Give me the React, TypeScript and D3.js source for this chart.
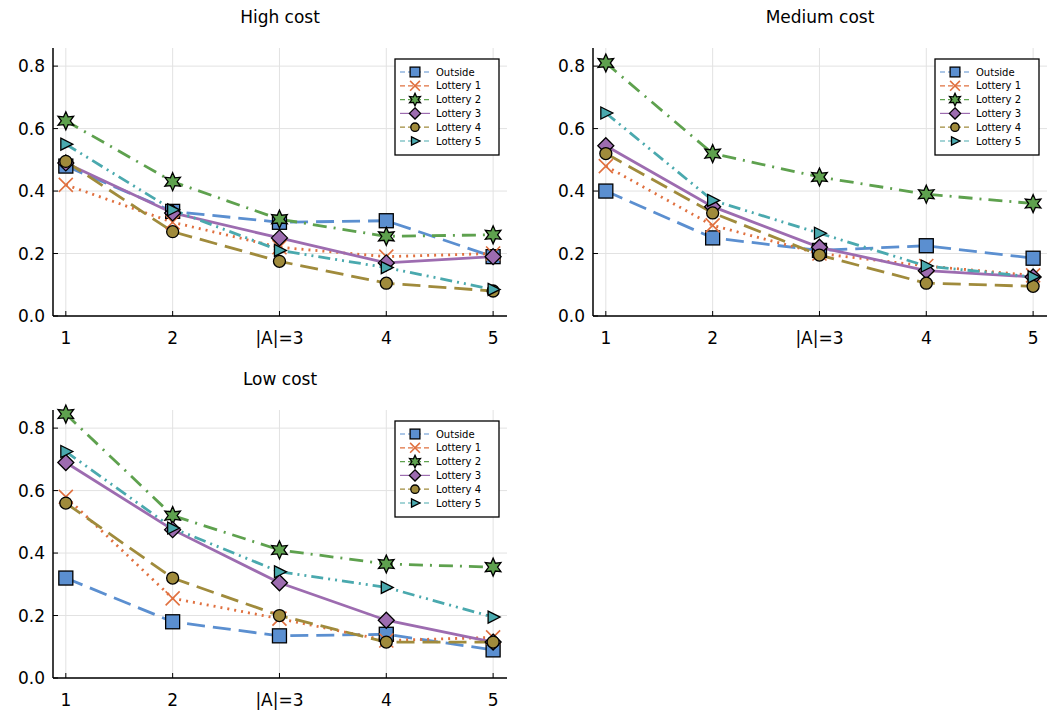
import * as d3 from 'd3';

const xs = [1, 2, 3, 4, 5];
const xLabels = ['1', '2', '|A|=3', '4', '5'];
const yTicks = [0, 0.2, 0.4, 0.6, 0.8];
const seriesNames = ['Outside', 'Lottery 1', 'Lottery 2', 'Lottery 3', 'Lottery 4', 'Lottery 5'];

const highCost = [
  [0.48, 0.335, 0.30, 0.305, 0.19],
  [0.42, 0.30, 0.22, 0.19, 0.20],
  [0.625, 0.43, 0.31, 0.255, 0.26],
  [0.49, 0.33, 0.25, 0.17, 0.19],
  [0.495, 0.27, 0.175, 0.105, 0.08],
  [0.55, 0.34, 0.21, 0.155, 0.085],
];
const mediumCost = [
  [0.40, 0.25, 0.21, 0.225, 0.185],
  [0.48, 0.29, 0.20, 0.16, 0.13],
  [0.81, 0.52, 0.445, 0.39, 0.36],
  [0.545, 0.35, 0.22, 0.145, 0.125],
  [0.52, 0.33, 0.195, 0.105, 0.095],
  [0.65, 0.37, 0.265, 0.16, 0.125],
];
const lowCost = [
  [0.32, 0.18, 0.135, 0.14, 0.09],
  [0.58, 0.255, 0.19, 0.12, 0.13],
  [0.845, 0.52, 0.41, 0.365, 0.355],
  [0.69, 0.475, 0.305, 0.185, 0.115],
  [0.56, 0.32, 0.20, 0.115, 0.115],
  [0.725, 0.48, 0.34, 0.29, 0.195],
];

const colors = ['#5b8fd0', '#e0703f', '#5ea14e', '#9d6cb0', '#a08b3c', '#4aa9ae'];
const dashes = ['18,8', '2,5', '14,7,2,7', '', '18,8', '12,5,2,5,2,5'];
const shapes = ['square', 'x', 'star', 'diamond', 'circle', 'tri'];

function Marker({ kind, x, y, color, s = 1 }: any) {
  const st = { fill: color, stroke: '#000', strokeWidth: 1.3 };
  if (kind === 'square') return <rect x={x - 7 * s} y={y - 7 * s} width={14 * s} height={14 * s} {...st} />;
  if (kind === 'circle') return <circle cx={x} cy={y} r={6 * s} {...st} />;
  if (kind === 'diamond') return <path d={`M${x},${y - 8 * s}L${x + 8 * s},${y}L${x},${y + 8 * s}L${x - 8 * s},${y}Z`} {...st} />;
  if (kind === 'tri') return <path d={`M${x - 5 * s},${y - 6 * s}L${x + 7 * s},${y}L${x - 5 * s},${y + 6 * s}Z`} {...st} />;
  if (kind === 'x') return <path d={`M${x - 7 * s},${y - 7 * s}L${x + 7 * s},${y + 7 * s}M${x + 7 * s},${y - 7 * s}L${x - 7 * s},${y + 7 * s}`} stroke={color} strokeWidth={1.6} fill="none" />;
  const pts: string[] = [];
  for (let i = 0; i < 12; i++) {
    const r = (i % 2 === 0 ? 9 : 4.5) * s;
    const a = (i * Math.PI) / 6 - Math.PI / 2;
    pts.push(`${x + r * Math.cos(a)},${y + r * Math.sin(a)}`);
  }
  return <polygon points={pts.join(' ')} {...st} />;
}

function Panel({ title, data, left, top, width, height }: any) {
  const x = d3.scaleLinear().domain([0.88, 5.13]).range([left, left + width]);
  const y = d3.scaleLinear().domain([0, 0.858]).range([top + height, top]);
  const line = d3.line<number>().x((_, i) => x(xs[i])).y((d) => y(d));
  const lx = left + width - 112;
  const ly = top + 11;
  return (
    <g>
      <text x={(left + left + width) / 2} y={top - 25} textAnchor="middle" fontSize={17}>{title}</text>
      {xs.map((v) => <line key={v} x1={x(v)} x2={x(v)} y1={top} y2={top + height} stroke="#e2e2e2" />)}
      {yTicks.map((v) => <line key={v} x1={left} x2={left + width} y1={y(v)} y2={y(v)} stroke="#e2e2e2" />)}
      <line x1={left} x2={left} y1={top} y2={top + height} stroke="#000" strokeWidth={1.5} />
      <line x1={left} x2={left + width} y1={top + height} y2={top + height} stroke="#000" strokeWidth={1.5} />
      {yTicks.map((v) => (
        <g key={v}>
          <line x1={left} x2={left + 5} y1={y(v)} y2={y(v)} stroke="#000" />
          <text x={left - 8} y={y(v) + 6} textAnchor="end" fontSize={17}>{v.toFixed(1)}</text>
        </g>
      ))}
      {xs.map((v, i) => (
        <g key={v}>
          <line x1={x(v)} x2={x(v)} y1={top + height} y2={top + height - 5} stroke="#000" />
          <text x={x(v)} y={top + height + 28} textAnchor="middle" fontSize={17}>{xLabels[i]}</text>
        </g>
      ))}
      {data.map((s: number[], k: number) => (
        <path key={k} d={line(s) || ''} fill="none" stroke={colors[k]} strokeWidth={2.8} strokeDasharray={dashes[k]} />
      ))}
      {data.map((s: number[], k: number) => s.map((v, i) => (
        <Marker key={k + '-' + i} kind={shapes[k]} x={x(xs[i])} y={y(v)} color={colors[k]} />
      )))}
      <rect x={lx} y={ly} width={104} height={96} fill="#fff" stroke="#000" strokeWidth={1.3} />
      {seriesNames.map((n, k) => (
        <g key={n}>
          <line x1={lx + 5} x2={lx + 35} y1={ly + 13 + k * 13.8} y2={ly + 13 + k * 13.8} stroke={colors[k]} strokeWidth={1.2} strokeDasharray={dashes[k] ? '5,3' : ''} />
          <Marker kind={shapes[k]} x={lx + 20} y={ly + 13 + k * 13.8} color={colors[k]} s={0.7} />
          <text x={lx + 41} y={ly + 16.5 + k * 13.8} fontSize={10}>{n}</text>
        </g>
      ))}
    </g>
  );
}

export default function App() {
  return (
    <svg width={1054} height={713} style={{ position: 'absolute', left: 0, top: 0, fontFamily: 'DejaVu Sans' }}>
      <rect width={1054} height={713} fill="#fff" />
      <Panel title="High cost" data={highCost} left={53} top={48} width={454} height={268} />
      <Panel title="Medium cost" data={mediumCost} left={593} top={48} width={454} height={268} />
      <Panel title="Low cost" data={lowCost} left={53} top={410} width={454} height={268} />
    </svg>
  );
}
